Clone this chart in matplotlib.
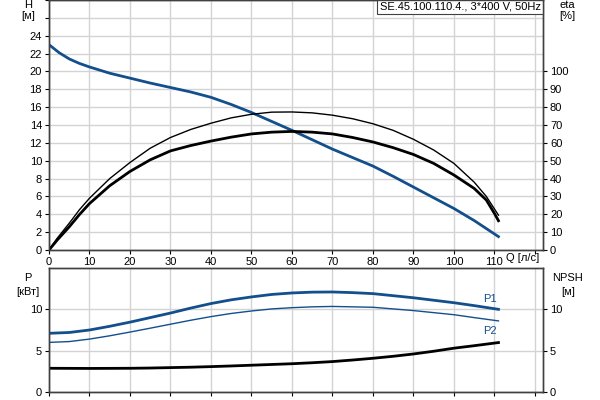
import matplotlib
matplotlib.use("Agg")
from matplotlib import pyplot as plt

plt.rcParams['font.family'] = ['Liberation Sans', 'DejaVu Sans']
plt.rcParams['font.size'] = 8

# flow, l/s -- head curve
q_h = [0, 2.5, 5, 7.5, 10, 15, 20, 25, 30, 35, 40, 45, 50, 55, 60, 65,
       70, 75, 80, 85, 90, 95, 100, 105, 111]
head = [23.0, 22.1, 21.4, 20.9, 20.5, 19.8, 19.25, 18.7, 18.2, 17.7, 17.1,
        16.3, 15.4, 14.4, 13.4, 12.35, 11.3, 10.35, 9.4, 8.25, 7.05, 5.85,
        4.65, 3.3, 1.5]

# efficiency curves, %
q_eta = [0, 2, 5, 7.5, 10, 15, 20, 25, 30, 35, 40, 45, 50, 55, 60, 65, 70,
         75, 80, 85, 90, 95, 100, 105, 108, 110, 111]
eta1 = [0, 6.5, 15, 22.5, 29, 40, 49, 57, 63, 67.5, 71, 74, 76, 77.2, 77.3,
        76.8, 75.5, 73.5, 70.7, 67, 62, 56, 48.5, 38, 30, 23, 19.5]
eta2 = [0, 5.5, 13, 19.8, 26, 36, 44, 50.5, 55.5, 58.5, 61, 63.2, 65, 66,
        66.4, 66, 65, 63, 60.5, 57.3, 53.5, 48.5, 42, 34.5, 28, 20.5, 16.4]

# power and NPSH
q_p = [0, 5, 10, 15, 20, 25, 30, 35, 40, 45, 50, 55, 60, 65, 70, 75, 80,
       85, 90, 95, 100, 105, 111]
p1 = [7.1, 7.2, 7.5, 7.95, 8.45, 9.0, 9.55, 10.15, 10.7, 11.15, 11.5, 11.8,
      11.98, 12.08, 12.1, 12.02, 11.9, 11.65, 11.4, 11.1, 10.8, 10.45, 10.0]
p2 = [6.0, 6.1, 6.4, 6.8, 7.25, 7.72, 8.2, 8.68, 9.12, 9.5, 9.8, 10.05,
      10.2, 10.3, 10.35, 10.3, 10.25, 10.05, 9.85, 9.6, 9.35, 9.0, 8.6]
npsh = [2.87, 2.86, 2.85, 2.86, 2.87, 2.9, 2.95, 3.0, 3.07, 3.15, 3.24,
        3.33, 3.42, 3.54, 3.68, 3.87, 4.08, 4.32, 4.6, 4.93, 5.3, 5.6, 5.98]

q_ticks = list(range(0, 130, 10))
q_labels = [str(t) for t in q_ticks[:-1]] + ['']

blue = '#134f8c'
grid_kw = dict(color='#d3d3d3', linestyle='-', linewidth=1)

fig = plt.figure(figsize=(6, 4), dpi=100)
ax = fig.add_axes([49 / 600, 1 - 250 / 400, 494 / 600, 250 / 400])
ax2 = fig.add_axes([49 / 600, 8 / 400, 494 / 600, 124 / 400])

# --- upper chart: H and eta ---
ax.plot(q_h, head, color=blue, lw=2, zorder=3)
ax.set_xlim(0, 122)
ax.set_ylim(0, 28)
ax.set_xticks(q_ticks)
ax.set_xticklabels(q_labels)
ax.set_yticks(range(0, 30, 2))
ax.set_yticklabels([str(t) if t <= 24 else '' for t in range(0, 30, 2)])
ax.grid(**grid_kw)
ax.set_axisbelow(True)
ax.tick_params(length=3, width=0.8, pad=2)

axe = ax.twinx()
axe.plot(q_eta, eta1, color='black', lw=1)
axe.plot(q_eta, eta2, color='black', lw=2)
axe.set_ylim(0, 140)
axe.set_yticks(range(0, 110, 10))
axe.tick_params(length=3, width=0.8, pad=2)

for a in (ax, axe):
    for s in a.spines.values():
        s.set_color('#404040')
        s.set_linewidth(1)

ax.text(-0.043, 1.0, 'H', transform=ax.transAxes, ha='center', va='top')
ax.text(-0.043, 0.955, '[м]', transform=ax.transAxes, ha='center', va='top')
axe.text(1.05, 1.0, 'eta', transform=ax.transAxes, ha='center', va='top')
axe.text(1.05, 0.955, '[%]', transform=ax.transAxes, ha='center', va='top')
ax.text(117, -0.012, 'Q [л/с]', transform=ax.get_xaxis_transform(),
        ha='center', va='top')
ax.text(0.995, 0.995, 'SE.45.100.110.4., 3*400 V, 50Hz', transform=ax.transAxes,
        ha='right', va='top', zorder=5,
        bbox=dict(boxstyle='square,pad=0.25', fc='white', ec='#404040', lw=0.8))

# --- lower chart: P and NPSH ---
ax2.plot(q_p, p1, color=blue, lw=2, zorder=3)
ax2.plot(q_p, p2, color=blue, lw=1, zorder=3)
ax2.set_xlim(0, 122)
ax2.set_ylim(0, 15)
ax2.set_xticks(q_ticks)
ax2.set_xticklabels([])
ax2.set_yticks([0, 5, 10])
ax2.grid(**grid_kw)
ax2.set_axisbelow(True)
ax2.tick_params(length=3, width=0.8, pad=2)

axn = ax2.twinx()
axn.plot(q_p, npsh, color='black', lw=2)
axn.set_ylim(0, 15)
axn.set_yticks([0, 5, 10])
axn.tick_params(length=3, width=0.8, pad=2)

for a in (ax2, axn):
    for s in a.spines.values():
        s.set_color('#404040')
        s.set_linewidth(1)

ax2.text(q_p[-1] - 2, p1[-1] + 0.7, 'P1', color=blue, ha='center', va='bottom')
ax2.text(q_p[-1] - 2, p2[-1] - 0.6, 'P2', color=blue, ha='center', va='top')
ax2.text(-0.043, 0.96, 'P', transform=ax2.transAxes, ha='center', va='top')
ax2.text(-0.043, 0.85, '[кВт]', transform=ax2.transAxes, ha='center', va='top')
axn.text(1.05, 0.96, 'NPSH', transform=ax2.transAxes, ha='center', va='top')
axn.text(1.05, 0.85, '[м]', transform=ax2.transAxes, ha='center', va='top')

fig.savefig('out.png', dpi=100)
plt.close('all')
